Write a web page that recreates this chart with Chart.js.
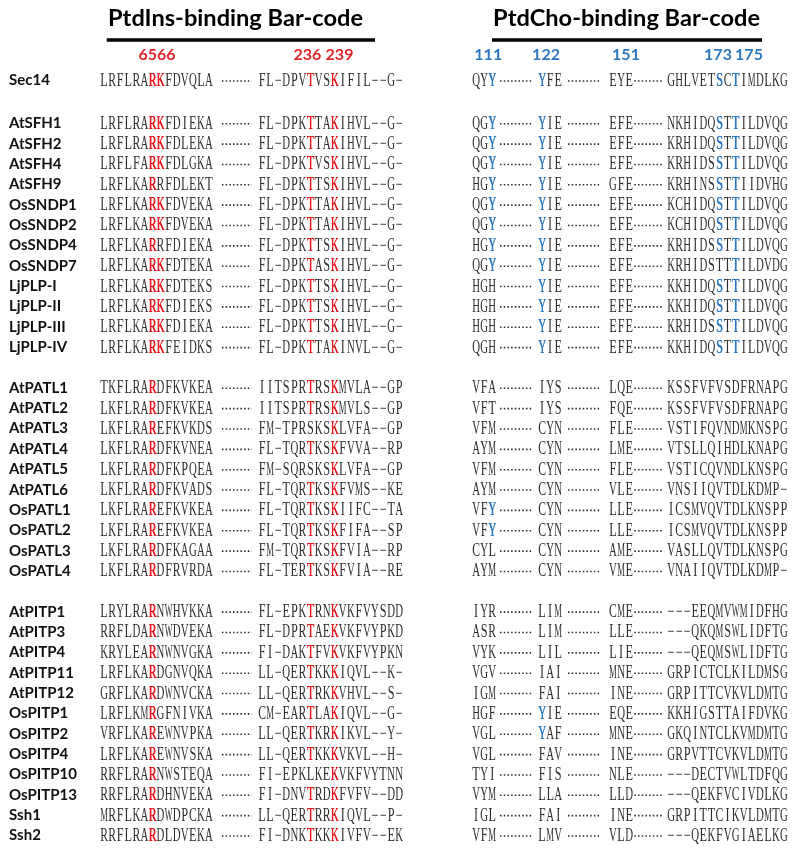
<!DOCTYPE html>
<html>
<head>
<meta charset="utf-8">
<title>PtdIns / PtdCho binding bar-code alignment</title>
<script src="https://cdn.jsdelivr.net/npm/chart.js@4.4.1/dist/chart.umd.min.js"></script>
<style>
  html, body { margin: 0; padding: 0; background: #fff; }
  #wrap { width: 800px; height: 851px; }
</style>
</head>
<body>
<div id="wrap"><canvas id="alignChart" width="800" height="851"></canvas></div>
<script>
// --- data (lowercase letter = highlighted residue) ---
const names = [
  'Sec14',
  'AtSFH1', 'AtSFH2', 'AtSFH4', 'AtSFH9', 'OsSNDP1', 'OsSNDP2', 'OsSNDP4', 'OsSNDP7',
  'LjPLP-I', 'LjPLP-II', 'LjPLP-III', 'LjPLP-IV',
  'AtPATL1', 'AtPATL2', 'AtPATL3', 'AtPATL4', 'AtPATL5', 'AtPATL6',
  'OsPATL1', 'OsPATL2', 'OsPATL3', 'OsPATL4',
  'AtPITP1', 'AtPITP3', 'AtPITP4', 'AtPITP11', 'AtPITP12',
  'OsPITP1', 'OsPITP2', 'OsPITP4', 'OsPITP10', 'OsPITP13', 'Ssh1', 'Ssh2'
];

const insLeft = [
  'LRFLRArkFDVQLA',
  'LRFLRArkFDIEKA', 'LRFLRArkFDLEKA', 'LRFLFArkFDLGKA', 'LRFLKArRFDLEKT',
  'LRFLKArkFDVEKA', 'LRFLKArkFDVEKA', 'LRFLKArRFDIEKA', 'LRFLKArkFDTEKA',
  'LRFLKArkFDTEKS', 'LRFLKArkFDIEKS', 'LRFLKArkFDIEKA', 'LRFLKArkFEIDKS',
  'TKFLRArDFKVKEA', 'LKFLRArDFKVKEA', 'LKFLRArEFKVKDS', 'LKFLRArDFKVNEA',
  'LKFLRArDFKPQEA', 'LKFLRArDFKVADS', 'LKFLRArEFKVKEA', 'LKFLRArEFKVKEA',
  'LKFLRArDFKAGAA', 'LKFLRArDFRVRDA',
  'LRYLRArNWHVKKA', 'RRFLDArNWDVEKA', 'KRYLEArNWNVGKA', 'LRFLKArDGNVQKA',
  'GRFLKArDWNVCKA', 'LRFLKMrGFNIVKA', 'VRFLKArEWNVPKA', 'LRFLKArEWNVSKA',
  'RRFLRArNWSTEQA', 'RRFLRArDHNVEKA', 'MRFLKArDWDPCKA', 'RRFLRArDLDVEKA'
];

const insRight = [
  'FL-DPVtVSkIFIL--G-',
  'FL-DPKtTAkIHVL--G-', 'FL-DPKtTAkIHVL--G-', 'FL-DPKtVSkIHVL--G-', 'FL-DPKtTSkIHVL--G-',
  'FL-DPKtTAkIHVL--G-', 'FL-DPKtTAkIHVL--G-', 'FL-DPKtTSkIHVL--G-', 'FL-DPKtASkIHVL--G-',
  'FL-DPKtTSkIHVL--G-', 'FL-DPKtTSkIHVL--G-', 'FL-DPKtTSkIHVL--G-', 'FL-DPKtTAkINVL--G-',
  'IITSPRtRSkMVLA--GP', 'IITSPRtRSkMVLS--GP', 'FM-TPRSKSkLVFA--GP', 'FL-TQRtKSkFVVA--RP',
  'FM-SQRSKSkLVFA--GP', 'FL-TQRtKSkFVMS--KE', 'FL-TQRtKSkIIFC--TA', 'FL-TQRtKSkFIFA--SP',
  'FM-TQRtKSkFVIA--RP', 'FL-TERtKSkFVIA--RE',
  'FL-EPKtRNkVKFVYSDD', 'FL-DPRtAEkVKFVYPKD', 'FI-DAKtFVkVKFVYPKN', 'LL-QERtKKkIQVL--K-',
  'LL-QERtRKkVHVL--S-', 'CM-EARtLAkIQVL--G-', 'LL-QERtKRkIKVL--Y-', 'LL-QERtKKkVKVL--H-',
  'FI-EPKLKEkVKFVYTNN', 'FI-DNVtRDkFVFV--DD', 'LL-QERtRRkIQVL--P-', 'FI-DNKtKKkIVFV--EK'
];

const choA = [
  'QYy',
  'QGy', 'QGy', 'QGy', 'HGy', 'QGy', 'QGy', 'HGy', 'QGy', 'HGH', 'HGH', 'HGH', 'QGH',
  'VFA', 'VFT', 'VFM', 'AYM', 'VFM', 'AYM', 'VFy', 'VFy', 'CYL', 'AYM',
  'IYR', 'ASR', 'VYK', 'VGV', 'IGM', 'HGF', 'VGL', 'VGL', 'TYI', 'VYM', 'IGL', 'VFM'
];

const choB = [
  'yFE',
  'yIE', 'yIE', 'yIE', 'yIE', 'yIE', 'yIE', 'yIE', 'yIE', 'yIE', 'yIE', 'yIE', 'yIE',
  'IYS', 'IYS', 'CYN', 'CYN', 'CYN', 'CYN', 'CYN', 'CYN', 'CYN', 'CYN',
  'LIM', 'LIM', 'LIL', 'IAI', 'FAI', 'yIE', 'yAF', 'FAV', 'FIS', 'LLA', 'FAI', 'LMV'
];

const choC = [
  'EYE',
  'EFE', 'EFE', 'EFE', 'GFE', 'EFE', 'EFE', 'EFE', 'EFE', 'EFE', 'EFE', 'EFE', 'EFE',
  'LQE', 'FQE', 'FLE', 'LME', 'FLE', 'VLE', 'LLE', 'LLE', 'AME', 'VME',
  'CME', 'LLE', 'LIE', 'MNE', 'INE', 'EQE', 'MNE', 'INE', 'NLE', 'LLD', 'INE', 'VLD'
];

const choD = [
  'GHLVETsCtIMDLKG',
  'NKHIDQsTtILDVQG', 'KRHIDQsTtILDVQG', 'KRHIDSsTtILDVQG', 'KRHINSsTtIIDVHG',
  'KCHIDQsTtILDVQG', 'KCHIDQsTtILDVQG', 'KRHIDSsTtILDVQG', 'KRHIDSTTtILDVDG',
  'KKHIDQsTtILDVQG', 'KKHIDQsTtILDVQG', 'KRHIDSsTtILDVQG', 'KKHIDQsTtILDVQG',
  'KSSFVFVSDFRNAPG', 'KSSFVFVSDFRNAPG', 'VSTIFQVNDMKNSPG', 'VTSLLQIHDLKNAPG',
  'VSTICQVNDLKNSPG', 'VNSIIQVTDLKDMP-', 'ICSMVQVTDLKNSPP', 'ICSMVQVTDLKNSPP',
  'VASLLQVTDLKNSPG', 'VNAIIQVTDLKDMP-',
  '---EEQMVWMIDFHG', '---QKQMSWLIDFTG', '---QEQMSWLIDFTG', 'GRPICTCLKILDMSG',
  'GRPITTCVKVLDMTG', 'KKHIGSTTAIFDVKG', 'GKQINTCLKVMDMTG', 'GRPVTTCVKVLDMTG',
  '---DECTVWLTDFQG', '---QEKFVCIVDLKG', 'GRPITTCIKVLDMTG', '---QEKFVGIAELKG'
];

const titles = ['PtdIns-binding Bar-code', 'PtdCho-binding Bar-code'];
const insPositions = ['6566', '236', '239'];
const insPositionCols = [19.45, 38.1, 42.07];
const choPositions = ['111', '122', '151', '173', '175'];
const choPositionCols = [60.5, 67.66, 77.57, 88.97, 92.81];

// --- layout (column / row units) ---
const COLS = 99.13;
const ROW_TOP = -3.931;
const ROW_BOTTOM = 37.887;
const GROUP_STARTS = [1, 13, 23];
const GROUP_GAPS = [1.1, 1.0, 1.0];
const NAME_COL = 1.12;
const SEGMENTS = [
  { seq: insLeft, start: 12.39, tone: 'red' },
  { seq: insRight, start: 31.97, tone: 'red' },
  { seq: choA, start: 58.49, tone: 'blue' },
  { seq: choB, start: 66.67, tone: 'blue' },
  { seq: choC, start: 75.46, tone: 'blue' },
  { seq: choD, start: 82.65, tone: 'blue' }
];
const LEADERS = [[27.5, 31.2], [61.96, 65.92], [70.38, 74.35], [78.6, 82.2]];
const TITLE_ROW = -2.654;
const RULE_ROW = -1.966;
const POS_ROW = -0.983;
const TITLE_SPANS = [[13.38, 44.98], [61.09, 94.18]];
const RULE_SPANS = [[13.22, 46.47], [60.97, 94.42]];

const COLORS = {
  text: '#2e2e2e',
  red: '#e8141b',
  blue: '#2b79c2',
  posRed: '#e3242b',
  posBlue: '#2e78bf',
  dots: '#2a2a2a'
};

// row position for each sequence, with blank space between the groups
function rowOf(i) {
  let extra = 0;
  GROUP_STARTS.forEach((s, g) => { if (i >= s) extra += GROUP_GAPS[g]; });
  return i + extra;
}

// --- datasets ---
const residuePoints = [];
SEGMENTS.forEach(seg => {
  seg.seq.forEach((s, i) => {
    [...s].forEach((ch, k) => {
      const hi = ch !== ch.toUpperCase();
      residuePoints.push({ x: seg.start + k + 0.5, y: rowOf(i), ch: ch.toUpperCase(), hi, tone: seg.tone });
    });
  });
});

const namePoints = names.map((n, i) => ({ x: NAME_COL, y: rowOf(i), label: n }));

const titlePoints = titles.map((t, i) => ({
  x: (TITLE_SPANS[i][0] + TITLE_SPANS[i][1]) / 2,
  y: TITLE_ROW,
  label: t,
  span: TITLE_SPANS[i][1] - TITLE_SPANS[i][0]
}));

const posPoints = insPositions.map((p, i) => ({ x: insPositionCols[i], y: POS_ROW, label: p, tone: 'posRed' }))
  .concat(choPositions.map((p, i) => ({ x: choPositionCols[i], y: POS_ROW, label: p, tone: 'posBlue' })));

const datasets = [
  { label: 'residues', textKind: 'residue', data: residuePoints, pointRadius: 0 },
  { label: 'names', textKind: 'name', data: namePoints, pointRadius: 0 },
  { label: 'titles', textKind: 'title', data: titlePoints, pointRadius: 0 },
  { label: 'positions', textKind: 'pos', data: posPoints, pointRadius: 0 }
];

RULE_SPANS.forEach(([a, b]) => {
  datasets.push({
    type: 'line',
    data: [{ x: a, y: RULE_ROW }, { x: b, y: RULE_ROW }],
    borderColor: '#000',
    borderWidth: 3.4,
    pointRadius: 0
  });
});

names.forEach((n, i) => {
  LEADERS.forEach(([a, b]) => {
    datasets.push({
      type: 'line',
      data: [{ x: a, y: rowOf(i) + 0.05 }, { x: b, y: rowOf(i) + 0.05 }],
      borderColor: COLORS.dots,
      borderWidth: 1.6,
      borderDash: [1.5, 2.2],
      borderCapStyle: 'butt',
      pointRadius: 0
    });
  });
});

// draws the letters at the positions the scales give to each point
const alignTextPlugin = {
  id: 'alignText',
  afterDatasetsDraw(chart) {
    const ctx = chart.ctx;
    const colPx = chart.scales.x.getPixelForValue(1) - chart.scales.x.getPixelForValue(0);
    chart.data.datasets.forEach((ds, di) => {
      if (!ds.textKind) return;
      const meta = chart.getDatasetMeta(di);
      meta.data.forEach((pt, i) => {
        const d = ds.data[i];
        ctx.save();
        if (ds.textKind === 'residue') {
          ctx.font = '18px "Liberation Serif"';
          ctx.textAlign = 'center';
          ctx.textBaseline = 'alphabetic';
          ctx.fillStyle = d.hi ? COLORS[d.tone] : COLORS.text;
          const ch = d.ch === '-' ? '\u2212' : d.ch;
          ctx.translate(pt.x, pt.y + 6);
          ctx.scale(0.68, 1);
          ctx.fillText(ch, 0, 0, 7.8 / 0.68);
          if (d.hi) ctx.fillText(ch, 0.5, 0, 7.8 / 0.68);
        } else if (ds.textKind === 'name') {
          ctx.font = 'bold 15px Lato';
          ctx.textAlign = 'left';
          ctx.textBaseline = 'alphabetic';
          ctx.fillStyle = '#111';
          ctx.fillText(d.label, pt.x, pt.y + 5.5);
        } else if (ds.textKind === 'title') {
          ctx.font = 'bold 22px Lato';
          ctx.textAlign = 'center';
          ctx.textBaseline = 'alphabetic';
          ctx.fillStyle = '#000';
          const w = ctx.measureText(d.label).width;
          ctx.translate(pt.x, pt.y);
          ctx.scale((d.span * colPx) / w, 1);
          ctx.fillText(d.label, 0, 0);
        } else if (ds.textKind === 'pos') {
          ctx.font = 'bold 16px Lato';
          ctx.textAlign = 'center';
          ctx.textBaseline = 'alphabetic';
          ctx.fillStyle = COLORS[d.tone];
          ctx.fillText(d.label, pt.x, pt.y);
        }
        ctx.restore();
      });
    });
  }
};

new Chart(document.getElementById('alignChart'), {
  type: 'scatter',
  data: { datasets },
  options: {
    responsive: false,
    animation: false,
    events: [],
    devicePixelRatio: 1,
    layout: { padding: 0 },
    plugins: { legend: { display: false }, tooltip: { enabled: false } },
    scales: {
      x: { type: 'linear', display: false, min: 0, max: COLS },
      y: { type: 'linear', display: false, min: ROW_TOP, max: ROW_BOTTOM, reverse: true }
    }
  },
  plugins: [alignTextPlugin]
});
</script>
</body>
</html>
